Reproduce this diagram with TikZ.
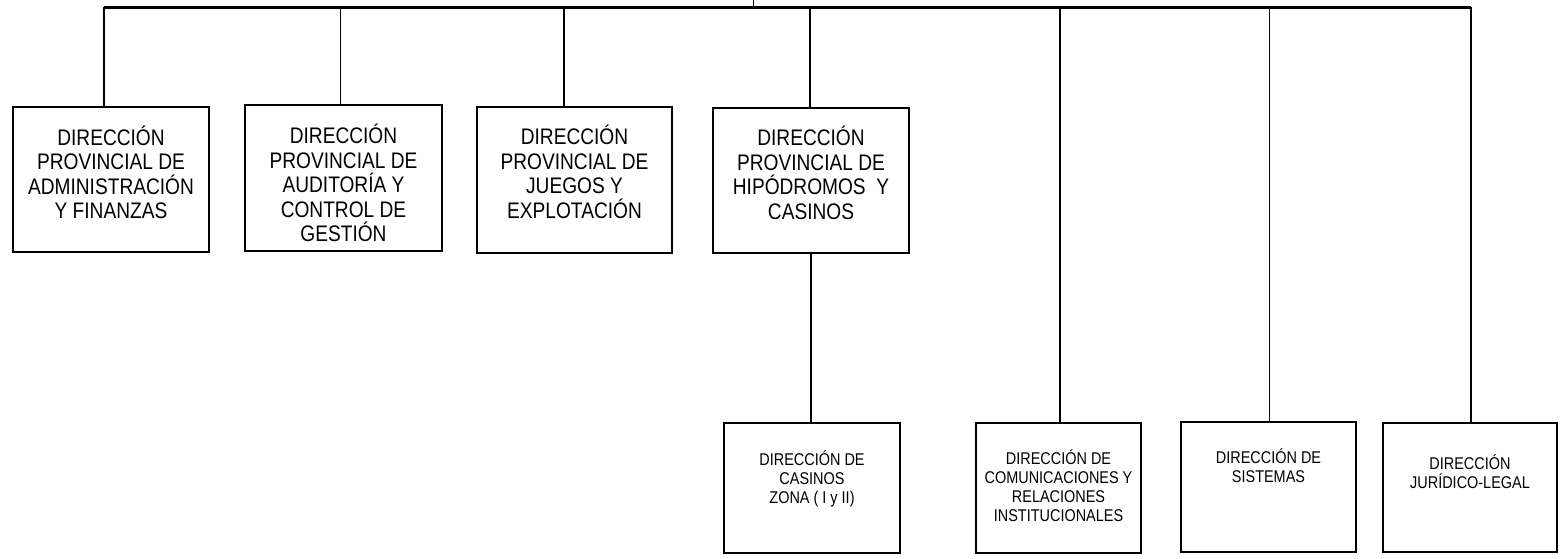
\documentclass[tikz,border=0pt]{standalone}
\usepackage{fontspec}
\setmainfont{Liberation Sans}[FakeStretch=0.85]
\begin{document}
\begin{tikzpicture}[x=1pt,y=-1pt,
  box/.style={draw, line width=1.8pt, inner sep=0pt, outer sep=0pt},
  bigtxt/.style={anchor=base, align=center, inner sep=0pt, font=\fontsize{22.5}{24.5}\selectfont},
  smalltxt/.style={anchor=base, align=center, inner sep=0pt, font=\fontsize{17}{19}\selectfont},
  drop/.style={line width=1.2pt},
  bus/.style={line width=3pt}]
\useasboundingbox (0,0) rectangle (1568,558);
% boxes
\node[box, minimum width=196, minimum height=145] (b1) at (111,179.5) {};
\node[box, minimum width=197, minimum height=146] (b2) at (343.5,178) {};
\node[box, minimum width=195, minimum height=146] (b3) at (574.5,180) {};
\node[box, minimum width=196, minimum height=145] (b4) at (811,180.5) {};
\node[box, minimum width=176, minimum height=130] (b5) at (812,488) {};
\node[box, minimum width=165, minimum height=130] (b6) at (1058.5,488) {};
\node[box, minimum width=175, minimum height=130] (b7) at (1268.5,487) {};
\node[box, minimum width=174, minimum height=129] (b8) at (1470,487.5) {};
% texts (anchor = baseline of the last line)
\node[bigtxt] (t1) at (111,218.5) {DIRECCIÓN\\PROVINCIAL DE\\ADMINISTRACIÓN\\Y FINANZAS};
\node[bigtxt] (t2) at (343.5,241.5) {DIRECCIÓN\\PROVINCIAL DE\\AUDITORÍA Y\\CONTROL DE\\GESTIÓN};
\node[bigtxt] (t3) at (574.5,218) {DIRECCIÓN\\PROVINCIAL DE\\JUEGOS Y\\EXPLOTACIÓN};
\node[bigtxt] (t4) at (811,219) {DIRECCIÓN\\PROVINCIAL DE\\HIPÓDROMOS\ \ Y\\CASINOS};
\node[smalltxt] (t5) at (812,503) {DIRECCIÓN DE\\CASINOS\\ZONA ( I y II)};
\node[smalltxt] (t6) at (1058.5,521) {DIRECCIÓN DE\\COMUNICACIONES Y\\RELACIONES\\INSTITUCIONALES};
\node[smalltxt] (t7) at (1268.5,482) {DIRECCIÓN DE\\SISTEMAS};
\node[smalltxt] (t8) at (1470,488) {DIRECCIÓN\\JURÍDICO-LEGAL};
% bus
\coordinate (busL) at (104,7);
\coordinate (busR) at (1471,7);
\coordinate (top) at (753,0);
\coordinate (d2) at (340,7);
\coordinate (d3) at (564,7);
\coordinate (d4) at (810,7);
\coordinate (d6) at (1060,7);
\coordinate (d7) at (1269,7);
\draw[bus] (busL) -- (busR);
\draw[line width=1pt] (top) -- (top |- busL);
\draw[drop] (busL) -- (busL |- b1.north);
\draw[line width=1pt] (d2) -- (d2 |- b2.north);
\draw[drop] (d3) -- (d3 |- b3.north);
\draw[drop] (d4) -- (d4 |- b4.north);
\draw[drop] (b4.south) -- (b4.south |- b5.north);
\draw[drop] (d6) -- (d6 |- b6.north);
\draw[line width=1pt] (d7) -- (d7 |- b7.north);
\draw[drop] (busR) -- (busR |- b8.north);
\end{tikzpicture}
\end{document}
